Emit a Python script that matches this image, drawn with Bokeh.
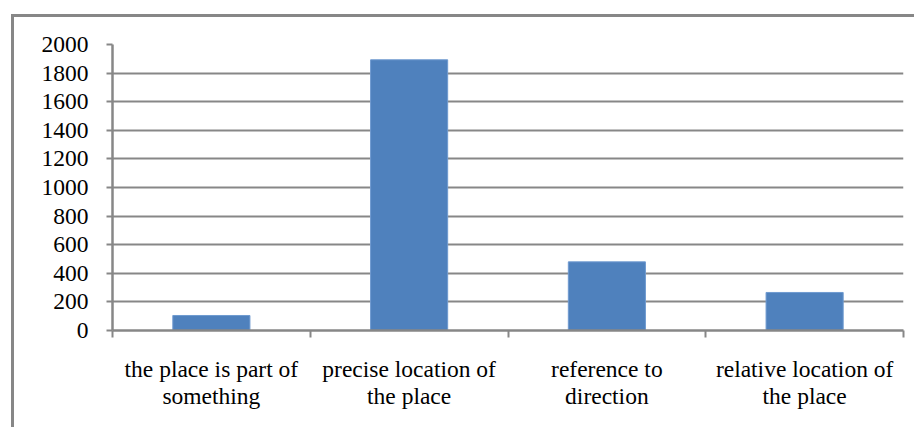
from bokeh.plotting import figure
from bokeh.models import Range1d, LinearAxis, FixedTicker, ColumnDataSource
from bokeh.embed import file_html
from bokeh.resources import INLINE

# Categories (line breaks as printed under the axis) and counts
categories = ["the place is part of\nsomething",
              "precise location of\nthe place",
              "reference to\ndirection",
              "relative location of\nthe place"]
counts = [105, 1893, 480, 266]
y_ticks = [0, 200, 400, 600, 800, 1000, 1200, 1400, 1600, 1800, 2000]

GRAY = "#878787"
BLUE = "#4F81BD"
FONT = "Liberation Serif"
FSIZE = "23.5px"

n = len(categories)
slot_centers = [i + 0.5 for i in range(n)]
source = ColumnDataSource(data=dict(x=slot_centers, count=counts))

p = figure(width=903, height=413,
           x_range=Range1d(0, n), y_range=Range1d(0, 2000),
           x_axis_location=None, y_axis_location=None,
           toolbar_location=None, output_backend="svg",
           min_border_left=98, min_border_right=14,
           min_border_top=27, min_border_bottom=100)
p.outline_line_color = None
p.background_fill_color = "white"
p.border_fill_color = "white"
# chart border (left and top edges; the others run off the page)
p.margin = (14, 0, 0, 11)
p.styles = {"border-left": f"3px solid {GRAY}", "border-top": f"3px solid {GRAY}"}

p.vbar(x="x", top="count", width=0.39, source=source,
       fill_color=BLUE, line_color="#6f9ad0", line_width=1)

# value axis
yax = LinearAxis(ticker=FixedTicker(ticks=y_ticks))
yax.axis_line_color = GRAY
yax.axis_line_width = 2.5
yax.major_tick_line_color = GRAY
yax.major_tick_line_width = 2
yax.major_tick_in = 0
yax.major_tick_out = 6
yax.minor_tick_line_color = None
yax.major_label_standoff = 18
yax.major_label_text_font = FONT
yax.major_label_text_font_size = FSIZE
yax.major_label_text_color = "black"
p.add_layout(yax, "left")

# horizontal gridlines
p.ygrid.ticker = FixedTicker(ticks=y_ticks)
p.ygrid.grid_line_color = GRAY
p.ygrid.grid_line_width = 2
p.xgrid.grid_line_color = None

# axis line with ticks at the category boundaries
bounds = list(range(n + 1))
bax = LinearAxis(ticker=FixedTicker(ticks=bounds),
                 major_label_overrides={b: "" for b in bounds})
bax.axis_line_color = GRAY
bax.axis_line_width = 2.5
bax.major_tick_line_color = GRAY
bax.major_tick_line_width = 2
bax.major_tick_in = 0
bax.major_tick_out = 7
bax.minor_tick_line_color = None
bax.major_label_standoff = 0
p.add_layout(bax, "below")

# category labels, centred under each slot
cax = LinearAxis(ticker=FixedTicker(ticks=slot_centers),
                 major_label_overrides={c: lab for c, lab in zip(slot_centers, categories)})
cax.axis_line_color = None
cax.major_tick_line_color = None
cax.minor_tick_line_color = None
cax.major_label_standoff = 12
cax.major_label_text_font = FONT
cax.major_label_text_font_size = FSIZE
cax.major_label_text_color = "black"
cax.major_label_text_line_height = 1.06
p.add_layout(cax, "below")

open("out.html", "w").write(file_html(p, INLINE))
